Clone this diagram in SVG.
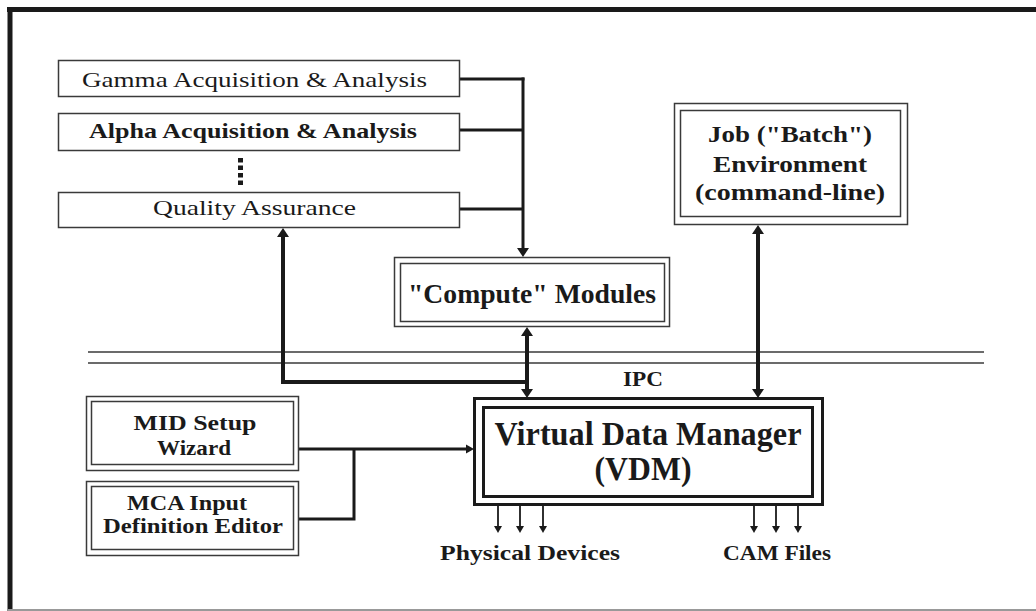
<svg xmlns="http://www.w3.org/2000/svg" xmlns:xlink="http://www.w3.org/1999/xlink" width="1036" height="611" viewBox="0 0 1036 611">
<style>
  text { font-family: "Liberation Serif", "Times New Roman", serif; fill: #1a1a1a; text-anchor: middle; }
  .b { font-weight: bold; }
  .box { fill: #fff; stroke: #3a3a3a; stroke-width: 1.5; }
  .thin { fill: none; stroke: #3a3a3a; stroke-width: 1.3; }
  .heavy { fill: none; stroke: #1a1a1a; stroke-width: 3; }
  .c3 { fill: none; stroke: #1a1a1a; stroke-width: 3; }
  .c4 { fill: none; stroke: #1a1a1a; stroke-width: 4; }
  .c1 { fill: none; stroke: #1a1a1a; stroke-width: 1.8; }
  .ah { fill: #1a1a1a; }
</style>
<defs>
  <path id="ahD" d="M-6,-9 L6,-9 L0,0 Z"/>
  <path id="ahU" d="M-6,9 L6,9 L0,0 Z"/>
  <path id="ahR" d="M-8,-4.5 L-8,4.5 L0,0 Z"/>
  <path id="ahDs" d="M-4,-7 L4,-7 L0,0 Z"/>
</defs>
<rect width="1036" height="611" fill="#fff"/>
<g id="frame">
  <line x1="7" y1="9.5" x2="1036" y2="9.5" stroke="#1a1a1a" stroke-width="5"/>
  <line x1="10" y1="7" x2="10" y2="611" stroke="#1a1a1a" stroke-width="5"/>
  <line x1="8" y1="610" x2="1036" y2="610" stroke="#999" stroke-width="2"/>
</g>
<g id="ipc-bus">
  <line class="thin" x1="88" y1="352" x2="984" y2="352"/>
  <line class="thin" x1="88" y1="363" x2="984" y2="363"/>
  <text class="b" x="643" y="386" font-size="20" textLength="40" lengthAdjust="spacingAndGlyphs">IPC</text>
</g>
<g id="connectors">
  <line class="c3" x1="460" y1="79" x2="524.5" y2="79"/>
  <line class="c3" x1="460" y1="130" x2="523" y2="130"/>
  <line class="c3" x1="460" y1="209" x2="523" y2="209"/>
  <line class="c3" x1="523" y1="77.5" x2="523" y2="249"/>
  <use xlink:href="#ahD" class="ah" x="523" y="257"/>
  <polyline class="c4" points="283,236 283,382 527,382"/>
  <use xlink:href="#ahU" class="ah" x="283" y="228"/>
  <line class="c4" x1="527" y1="335" x2="527" y2="390"/>
  <use xlink:href="#ahU" class="ah" x="527" y="327"/>
  <use xlink:href="#ahD" class="ah" x="527" y="398"/>
  <line class="c4" x1="758" y1="233" x2="758" y2="390"/>
  <use xlink:href="#ahU" class="ah" x="758" y="225"/>
  <use xlink:href="#ahD" class="ah" x="758" y="398"/>
  <line class="c3" x1="299" y1="449" x2="467" y2="449"/>
  <polyline class="c3" points="299,519 354,519 354,449"/>
  <use xlink:href="#ahR" class="ah" x="474" y="449"/>
  <line class="c1" x1="498" y1="505" x2="498" y2="527"/>
  <line class="c1" x1="520" y1="505" x2="520" y2="527"/>
  <line class="c1" x1="543" y1="505" x2="543" y2="527"/>
  <use xlink:href="#ahDs" class="ah" x="498" y="533"/>
  <use xlink:href="#ahDs" class="ah" x="520" y="533"/>
  <use xlink:href="#ahDs" class="ah" x="543" y="533"/>
  <line class="c1" x1="754" y1="505" x2="754" y2="527"/>
  <line class="c1" x1="776" y1="505" x2="776" y2="527"/>
  <line class="c1" x1="798" y1="505" x2="798" y2="527"/>
  <use xlink:href="#ahDs" class="ah" x="754" y="533"/>
  <use xlink:href="#ahDs" class="ah" x="776" y="533"/>
  <use xlink:href="#ahDs" class="ah" x="798" y="533"/>
</g>
<g id="gamma">
  <rect class="box" x="58.5" y="60.5" width="401" height="36"/>
  <text x="254.5" y="87" font-size="22" textLength="345" lengthAdjust="spacingAndGlyphs">Gamma Acquisition &amp; Analysis</text>
</g>
<g id="alpha">
  <rect class="box" x="58.5" y="113.5" width="401" height="37"/>
  <text class="b" x="253" y="138" font-size="22" textLength="328" lengthAdjust="spacingAndGlyphs">Alpha Acquisition &amp; Analysis</text>
</g>
<g id="ellipsis">
  <line x1="240.5" y1="158" x2="240.5" y2="186" stroke="#1a1a1a" stroke-width="5" stroke-dasharray="4.5 3"/>
</g>
<g id="qa">
  <rect class="box" x="58.5" y="192.5" width="401" height="35"/>
  <text x="254.5" y="215" font-size="22" textLength="203" lengthAdjust="spacingAndGlyphs">Quality Assurance</text>
</g>
<g id="compute">
  <rect class="box" x="394.5" y="257.5" width="275" height="69"/>
  <rect class="box" x="400.5" y="263.5" width="264" height="58"/>
  <text class="b" x="532" y="303" font-size="27" textLength="248" lengthAdjust="spacingAndGlyphs">"Compute" Modules</text>
</g>
<g id="job">
  <rect class="box" x="674.5" y="103.5" width="233" height="121"/>
  <rect class="box" x="680.5" y="110.5" width="220" height="106"/>
  <text class="b" x="790" y="142" font-size="23" textLength="164" lengthAdjust="spacingAndGlyphs">Job ("Batch")</text>
  <text class="b" x="790" y="172" font-size="23" textLength="154" lengthAdjust="spacingAndGlyphs">Environment</text>
  <text class="b" x="790" y="200" font-size="23" textLength="190" lengthAdjust="spacingAndGlyphs">(command-line)</text>
</g>
<g id="mid">
  <rect class="box" x="86.5" y="396.5" width="212" height="74"/>
  <rect class="box" x="91.5" y="401.5" width="202" height="63"/>
  <text class="b" x="195" y="430" font-size="22" textLength="123" lengthAdjust="spacingAndGlyphs">MID Setup</text>
  <text class="b" x="194" y="455" font-size="22" textLength="74" lengthAdjust="spacingAndGlyphs">Wizard</text>
</g>
<g id="mca">
  <rect class="box" x="86.5" y="481.5" width="212" height="74"/>
  <rect class="box" x="91.5" y="486.5" width="202" height="63"/>
  <text class="b" x="187" y="510" font-size="22" textLength="120" lengthAdjust="spacingAndGlyphs">MCA Input</text>
  <text class="b" x="193" y="533" font-size="22" textLength="180" lengthAdjust="spacingAndGlyphs">Definition Editor</text>
</g>
<g id="vdm">
  <rect x="474.5" y="398.5" width="348" height="106" fill="#fff" stroke="#1a1a1a" stroke-width="3"/>
  <rect x="483.5" y="407.5" width="329" height="89" fill="#fff" stroke="#1a1a1a" stroke-width="3"/>
  <text class="b" x="648" y="445" font-size="33" textLength="307" lengthAdjust="spacingAndGlyphs">Virtual Data Manager</text>
  <text class="b" x="643" y="480" font-size="33" textLength="97" lengthAdjust="spacingAndGlyphs">(VDM)</text>
</g>
<g id="physical-devices">
  <text class="b" x="530" y="560" font-size="21" textLength="180" lengthAdjust="spacingAndGlyphs">Physical Devices</text>
</g>
<g id="cam-files">
  <text class="b" x="777" y="560" font-size="21" textLength="108" lengthAdjust="spacingAndGlyphs">CAM Files</text>
</g>
</svg>
